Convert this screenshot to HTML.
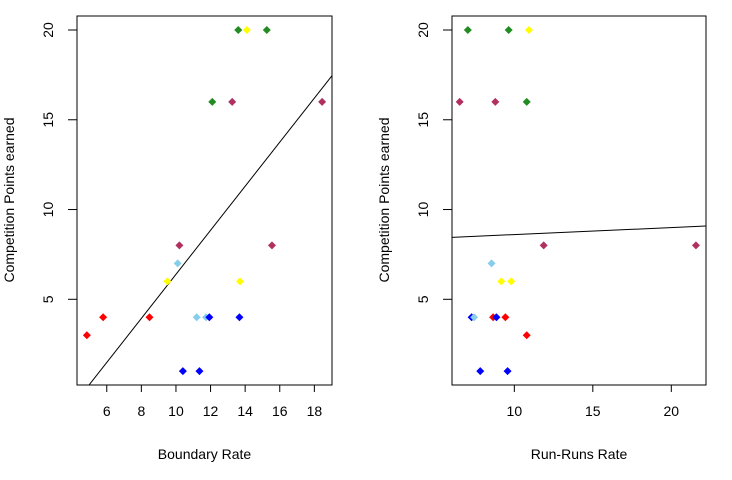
<!DOCTYPE html>
<html><head><meta charset="utf-8"><style>
body{margin:0;background:#fff}
svg{display:block;font-family:"Liberation Sans",Arial,sans-serif}
</style></head><body>
<svg id="c" width="732" height="480"></svg>
<script>
const colors = {r:"#FF0000",b:"#0000FF",lb:"#87CEEB",y:"#FFFF00",g:"#228B22",m:"#B03060"};
const boundaryX = [4.85,5.79,8.47,10.4,11.36,11.2,11.74,11.93,13.67,9.5,13.7,10.1,10.2,15.55,12.1,13.25,18.45,13.6,14.1,15.25];
const boundaryY = [3,4,4,1,1,4,4,4,4,6,6,7,8,8,16,16,16,20,20,20];
const boundaryC = ["r","r","r","b","b","lb","lb","b","b","y","y","lb","m","m","g","m","m","g","y","g"];
const runX = [7.04,9.64,10.93,6.52,8.79,10.79,11.87,21.57,8.55,9.17,9.8,7.28,7.44,8.65,8.86,9.43,10.79,7.83,9.57];
const runY = [20,20,20,16,16,16,8,8,7,6,6,4,4,4,4,4,3,1,1];
const runC = ["g","g","y","m","m","g","m","m","lb","y","y","b","lb","r","b","r","r","b","b"];
const boundaryTicks = [6,8,10,12,14,16,18];
const runTicks = [10,15,20];
const yTicks = [5,10,15,20];
const fit1 = [-5.88,1.227];
const fit2 = [8.215,0.039];
const NS="http://www.w3.org/2000/svg", svg=document.getElementById('c');
function el(t,a,p){const e=document.createElementNS(NS,t);for(const k in a)e.setAttribute(k,a[k]);(p||svg).appendChild(e);return e;}
function panel(o){
  const sx=v=>o.px0+(v-o.x0)/(o.x1-o.x0)*(o.px1-o.px0);
  const sy=v=>385+(v-0.226)/(20.78-0.226)*(16-385);
  const g=el('g',{});
  
  
  const cp='cp'+o.name;
  const d=el('clipPath',{id:cp},g);el('rect',{x:o.px0,y:16,width:o.px1-o.px0,height:369},d);
  const ln=el('line',{x1:sx(o.x0),y1:sy(o.fit[0]+o.fit[1]*o.x0),x2:sx(o.x1),y2:sy(o.fit[0]+o.fit[1]*o.x1),stroke:'#000','stroke-width':1,'clip-path':`url(#${cp})`},g);
  
  
  o.xs.forEach((x,i)=>{const cx=sx(x),cy=sy(o.ys[i]);
    const p=el('polygon',{points:`${cx},${cy-4} ${cx+4},${cy} ${cx},${cy+4} ${cx-4},${cy}`,fill:colors[o.cs[i]]},g);
    
    });
  const b=el('rect',{x:o.px0,y:16,width:o.px1-o.px0,height:369,fill:'none',stroke:'#000','stroke-width':1},g);
  
  
  o.xt.forEach(t=>{el('line',{x1:sx(t),x2:sx(t),y1:385,y2:392,stroke:'#000'},g);
    const tx=el('text',{x:sx(t),y:416,'text-anchor':'middle','font-size':14},g);tx.textContent=t;
    
    });
  yTicks.forEach(t=>{el('line',{x1:o.px0,x2:o.px0-9,y1:sy(t),y2:sy(t),stroke:'#000'},g);
    const tx=el('text',{x:o.px0-24,y:sy(t),'text-anchor':'middle','font-size':14,transform:`rotate(-90 ${o.px0-24} ${sy(t)})`},g);tx.textContent=t;
    
    });
  const xl=el('text',{x:(o.px0+o.px1)/2,y:459,'text-anchor':'middle','font-size':14},g);xl.textContent=o.xlab;
  
  
  const yx=o.px0-63;
  const yl=el('text',{x:yx,y:200,'text-anchor':'middle','font-size':14,transform:`rotate(-90 ${yx} 200)`},g);yl.textContent='Competition Points earned';
  
  
}
panel({name:'boundary-panel',px0:77,px1:332,x0:4.28,x1:19.02,xs:boundaryX,ys:boundaryY,cs:boundaryC,xt:boundaryTicks,fit:fit1,xlab:'Boundary Rate'});
panel({name:'run-panel',px0:452,px1:706,x0:6.03,x1:22.21,xs:runX,ys:runY,cs:runC,xt:runTicks,fit:fit2,xlab:'Run-Runs Rate'});
</script>
</body></html>
